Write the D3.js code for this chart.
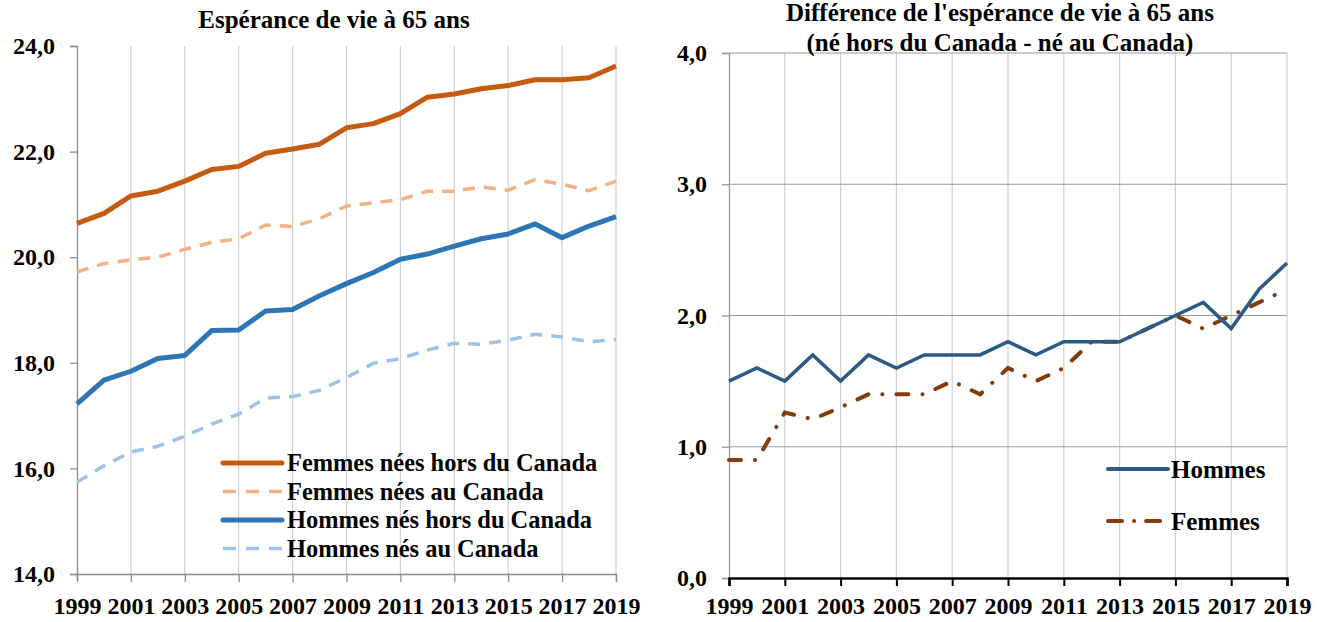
<!DOCTYPE html>
<html><head><meta charset="utf-8">
<script src="https://cdn.jsdelivr.net/npm/d3@7"></script>
<style>
body{margin:0;background:#fff;}
svg{display:block;}
svg text{font-family:"Liberation Serif","Times New Roman",serif !important;font-weight:bold;}
</style></head>
<body><svg id="c" width="1326" height="622"></svg>
<script>
const years = d3.range(1999, 2020);
const yearTicks = [1999,2001,2003,2005,2007,2009,2011,2013,2015,2017,2019];
const leftTicks = [14,16,18,20,22,24];
const rightTicks = [0,1,2,3,4];

const femmesHors = [20.64,20.83,21.16,21.25,21.44,21.66,21.72,21.97,22.05,22.14,22.45,22.53,22.72,23.03,23.09,23.19,23.25,23.36,23.36,23.40,23.62];
const femmesAu   = [19.72,19.88,19.95,20.00,20.15,20.28,20.35,20.61,20.58,20.73,20.97,21.03,21.09,21.25,21.25,21.33,21.27,21.47,21.38,21.26,21.44];
const hommesHors = [17.22,17.67,17.84,18.08,18.14,18.61,18.62,18.98,19.01,19.27,19.50,19.71,19.96,20.06,20.21,20.35,20.44,20.63,20.37,20.59,20.77];
const hommesAu   = [15.74,16.05,16.31,16.42,16.61,16.84,17.03,17.33,17.36,17.48,17.72,17.99,18.08,18.24,18.37,18.35,18.43,18.54,18.49,18.40,18.44];

const diffHommes = [1.5,1.6,1.5,1.7,1.5,1.7,1.6,1.7,1.7,1.7,1.8,1.7,1.8,1.8,1.8,1.9,2.0,2.1,1.9,2.2,2.4];
const diffFemmes = [0.9,0.9,1.26,1.21,1.3,1.4,1.4,1.4,1.5,1.4,1.6,1.5,1.6,1.8,1.8,1.9,2.0,1.9,2.0,2.1,2.2];

const fmt = v => d3.format(".1f")(v).replace(".", ",");
const svg = d3.select("#c");

// ---------- LEFT CHART ----------
const L = {x0:77, x1:616, y0:574, y1:46};
const xL = d3.scaleLinear().domain([1999,2019]).range([L.x0,L.x1]);
const yL = d3.scaleLinear().domain([14,24]).range([L.y0,L.y1]);

const gL = svg.append("g");
gL.append("g").selectAll("line").data(yearTicks.slice(1)).join("line")
  .attr("x1", d=>xL(d)).attr("x2", d=>xL(d)).attr("y1", L.y1).attr("y2", L.y0)
  .attr("stroke","#cfcfcf").attr("stroke-width",1.2);

const axYL = gL.append("g").attr("transform",`translate(${L.x0},0)`)
  .call(d3.axisLeft(yL).tickValues(leftTicks).tickFormat(fmt).tickSize(7).tickPadding(15));
const axXL = gL.append("g").attr("transform",`translate(0,${L.y0})`)
  .call(d3.axisBottom(xL).tickValues(yearTicks).tickFormat(d3.format("d")).tickSize(8).tickPadding(15));
[axYL,axXL].forEach(a=>{
  a.attr("font-family",null);
  a.select(".domain").attr("stroke","#8c8c8c").attr("stroke-width",1.3);
  a.selectAll(".tick line").attr("stroke","#8c8c8c").attr("stroke-width",1.3);
  a.selectAll("text").attr("font-size",24).attr("fill","#000");
});

const lineL = d3.line().x((d,i)=>xL(years[i])).y(d=>yL(d));
const leftSeries = [
  {name:"Femmes nées hors du Canada", data:femmesHors, color:"#C55A11", w:5, dash:null},
  {name:"Femmes nées au Canada", data:femmesAu, color:"#F4B183", w:3.5, dash:"12,9"},
  {name:"Hommes nés hors du Canada", data:hommesHors, color:"#2E75B6", w:5, dash:null},
  {name:"Hommes nés au Canada", data:hommesAu, color:"#9DC3E6", w:3.5, dash:"12,9"}
];
gL.selectAll("path.s").data(leftSeries).join("path").attr("class","s")
  .attr("d", d=>lineL(d.data)).attr("fill","none")
  .attr("stroke", d=>d.color).attr("stroke-width", d=>d.w)
  .attr("stroke-dasharray", d=>d.dash).attr("stroke-linejoin","round");

gL.append("text").attr("x",334).attr("y",28).attr("text-anchor","middle")
  .attr("font-size",25).text("Espérance de vie à 65 ans");

const legL = gL.append("g");
leftSeries.forEach((s,i)=>{
  const y = 463 + i*28.5;
  legL.append("line").attr("x1",223).attr("x2",282).attr("y1",y).attr("y2",y)
    .attr("stroke",s.color).attr("stroke-width",s.w).attr("stroke-linecap", s.dash? "butt":"round")
    .attr("stroke-dasharray", s.dash ? "13,10" : null);
  legL.append("text").attr("x",287).attr("y",y+8).attr("font-size",24.4).text(s.name);
});

// ---------- RIGHT CHART ----------
const R = {x0:729, x1:1287, y0:578, y1:53};
const xR = d3.scaleLinear().domain([1999,2019]).range([R.x0,R.x1]);
const yR = d3.scaleLinear().domain([0,4]).range([R.y0,R.y1]);
const gR = svg.append("g");
gR.append("g").selectAll("line").data(yearTicks.slice(1)).join("line")
  .attr("x1", d=>xR(d)).attr("x2", d=>xR(d)).attr("y1", R.y1).attr("y2", R.y0)
  .attr("stroke","#d0d0d0").attr("stroke-width",1.2);
gR.append("g").selectAll("line").data(rightTicks.slice(1)).join("line")
  .attr("x1", R.x0).attr("x2", R.x1).attr("y1", d=>yR(d)).attr("y2", d=>yR(d))
  .attr("stroke","#9a9a9a").attr("stroke-width",1.2);

const axYR = gR.append("g").attr("transform",`translate(${R.x0},0)`)
  .call(d3.axisLeft(yR).tickValues(rightTicks).tickFormat(fmt).tickSize(7).tickPadding(15));
axYR.select(".domain").attr("stroke","#9a9a9a").attr("stroke-width",1.3);
axYR.selectAll(".tick line").attr("stroke","#9a9a9a").attr("stroke-width",1.3);
const axXR = gR.append("g").attr("transform",`translate(0,${R.y0})`)
  .call(d3.axisBottom(xR).tickValues(yearTicks).tickFormat(d3.format("d")).tickSize(8).tickPadding(11));
axXR.select(".domain").attr("stroke","#000").attr("stroke-width",2.5);
axXR.selectAll(".tick line").attr("stroke","#000").attr("stroke-width",2);
[axYR,axXR].forEach(a=>{ a.attr("font-family",null); a.selectAll("text").attr("font-size",24).attr("fill","#000"); });

const lineR = d3.line().x((d,i)=>xR(years[i])).y(d=>yR(d));
const femDash = "12,14,0.1,14";
gR.append("path").attr("d", lineR(diffFemmes)).attr("fill","none")
  .attr("stroke","#843C0C").attr("stroke-width",4).attr("stroke-linecap","round")
  .attr("stroke-dasharray",femDash);
gR.append("path").attr("d", lineR(diffHommes)).attr("fill","none")
  .attr("stroke","#2A5A85").attr("stroke-width",3.5).attr("stroke-linejoin","miter");

const tR = gR.append("text").attr("text-anchor","middle").attr("font-size",25);
tR.append("tspan").attr("x",1000).attr("y",21).text("Différence de l'espérance de vie à 65 ans");
tR.append("tspan").attr("x",1000).attr("y",51).text("(né hors du Canada - né au Canada)");

gR.append("line").attr("x1",1108).attr("x2",1168).attr("y1",469).attr("y2",469)
  .attr("stroke","#2A5A85").attr("stroke-width",4).attr("stroke-linecap","round");
gR.append("text").attr("x",1171).attr("y",478).attr("font-size",25).text("Hommes");
gR.append("line").attr("x1",1108).attr("x2",1168).attr("y1",521).attr("y2",521)
  .attr("stroke","#843C0C").attr("stroke-width",4).attr("stroke-linecap","round")
  .attr("stroke-dasharray","14,12,0.1,12");
gR.append("text").attr("x",1171).attr("y",530).attr("font-size",25).text("Femmes");
</script></body></html>
